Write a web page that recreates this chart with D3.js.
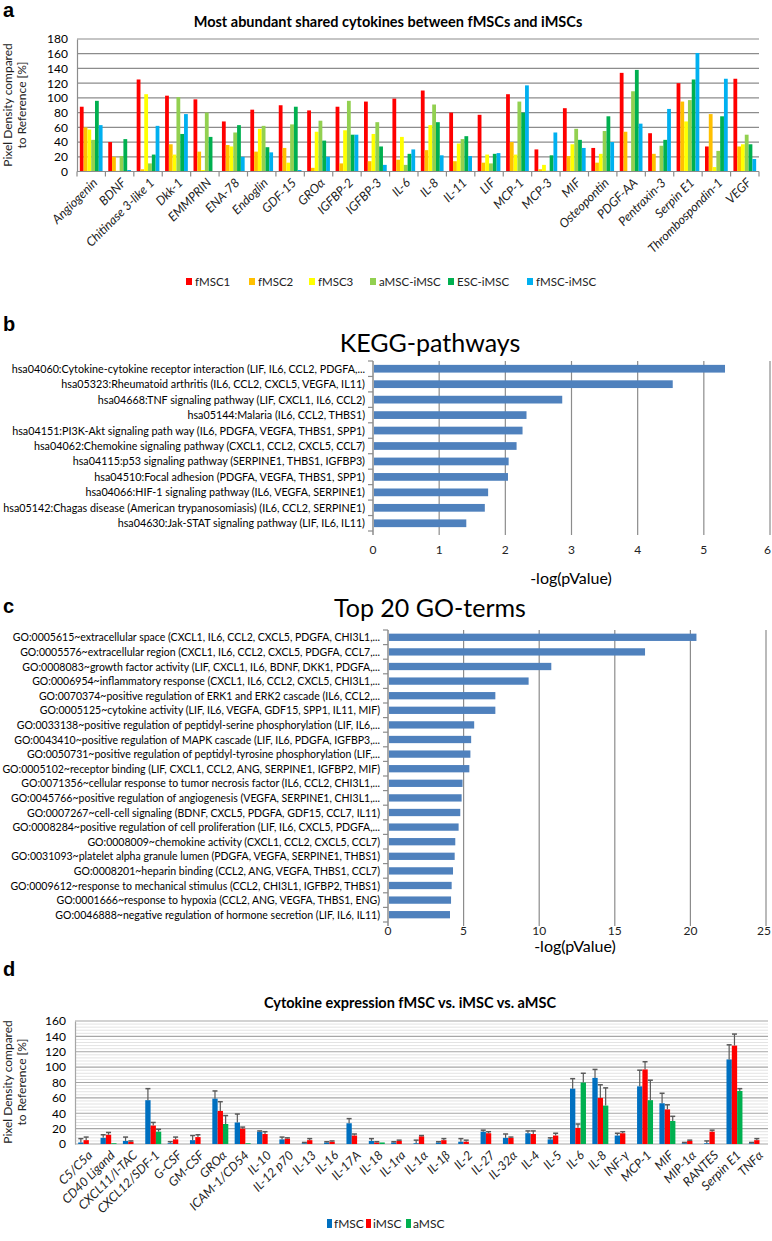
<!DOCTYPE html>
<html><head><meta charset="utf-8">
<script src="https://cdn.jsdelivr.net/npm/d3@7"></script>
<style>
body{margin:0;background:#fff}
svg{display:block}
text{font-family:Lato,"Liberation Sans",sans-serif;fill:#000}
</style>
</head><body>
<svg id="chart" width="772" height="1241"></svg>
<script>
// ---------- Panel a data ----------
const aCategories = ["Angiogenin","BDNF","Chitinase 3-like 1","Dkk-1","EMMPRIN","ENA-78","Endoglin","GDF-15","GROα","IGFBP-2","IGFBP-3","IL-6","IL-8","IL-11","LIF","MCP-1","MCP-3","MIF","Osteopontin","PDGF-AA","Pentraxin-3","Serpin E1","Thrombospondin-1","VEGF"];
const aSeriesNames = ["fMSC1","fMSC2","fMSC3","aMSC-iMSC","ESC-iMSC","fMSC-iMSC"];
const aColors = ["#ff0000","#ffc000","#ffff00","#92d050","#00b050","#00b0f0"];
const fMSC1     = [88,40,125,103,98,68,84,90,83,88,95,99,110,80,77,105,30,86,32,134,52,120,34,126];
const fMSC2     = [60,20,3,37,27,36,27,32,5,11,14,16,29,14,12,40,3,21,12,54,24,95,78,34];
const fMSC3     = [57,1,105,23,2,34,58,12,54,56,51,47,63,38,23,23,9,37,24,0,0,68,6,37];
const aMSC_iMSC = [43,21,11,101,80,53,62,64,69,96,67,9,91,44,11,95,1,58,55,109,35,97,28,50];
const ESC_iMSC  = [96,44,23,51,47,63,33,88,42,50,34,24,67,48,24,80,22,43,75,138,43,125,75,37];
const fMSC_iMSC = [63,2,62,78,0,20,26,2,20,50,9,30,22,21,25,117,53,32,40,65,85,161,126,17];
const aTicks = [0,20,40,60,80,100,120,140,160,180];
const aSeries = [fMSC1,fMSC2,fMSC3,aMSC_iMSC,ESC_iMSC,fMSC_iMSC];

// ---------- Panel b data ----------
const keggTerms = [
 "hsa04060:Cytokine-cytokine receptor interaction (LIF, IL6, CCL2, PDGFA,...",
 "hsa05323:Rheumatoid arthritis (IL6, CCL2, CXCL5, VEGFA, IL11)",
 "hsa04668:TNF signaling pathway (LIF, CXCL1, IL6, CCL2)",
 "hsa05144:Malaria (IL6, CCL2, THBS1)",
 "hsa04151:PI3K-Akt signaling path way (IL6, PDGFA, VEGFA, THBS1, SPP1)",
 "hsa04062:Chemokine signaling pathway (CXCL1, CCL2, CXCL5, CCL7)",
 "hsa04115:p53 signaling pathway (SERPINE1, THBS1, IGFBP3)",
 "hsa04510:Focal adhesion (PDGFA, VEGFA, THBS1, SPP1)",
 "hsa04066:HIF-1 signaling pathway (IL6, VEGFA, SERPINE1)",
 "hsa05142:Chagas disease (American trypanosomiasis) (IL6, CCL2, SERPINE1)",
 "hsa04630:Jak-STAT signaling pathway (LIF, IL6, IL11)"];
const keggValues = [5.32,4.53,2.86,2.32,2.26,2.17,2.05,2.04,1.74,1.69,1.41];
const keggTicks = [0,1,2,3,4,5,6];

// ---------- Panel c data ----------
const goTerms = [
 "GO:0005615~extracellular space (CXCL1, IL6, CCL2, CXCL5, PDGFA, CHI3L1,...",
 "GO:0005576~extracellular region (CXCL1, IL6, CCL2, CXCL5, PDGFA, CCL7,...",
 "GO:0008083~growth factor activity (LIF, CXCL1, IL6, BDNF, DKK1, PDGFA,...",
 "GO:0006954~inflammatory response (CXCL1, IL6, CCL2, CXCL5, CHI3L1,...",
 "GO:0070374~positive regulation of ERK1 and ERK2 cascade (IL6, CCL2,...",
 "GO:0005125~cytokine activity (LIF, IL6, VEGFA, GDF15, SPP1, IL11, MIF)",
 "GO:0033138~positive regulation of peptidyl-serine phosphorylation (LIF, IL6,...",
 "GO:0043410~positive regulation of MAPK cascade (LIF, IL6, PDGFA, IGFBP3,...",
 "GO:0050731~positive regulation of peptidyl-tyrosine phosphorylation (LIF,...",
 "GO:0005102~receptor binding (LIF, CXCL1, CCL2, ANG, SERPINE1, IGFBP2, MIF)",
 "GO:0071356~cellular response to tumor necrosis factor (IL6, CCL2, CHI3L1,...",
 "GO:0045766~positive regulation of angiogenesis (VEGFA, SERPINE1, CHI3L1,...",
 "GO:0007267~cell-cell signaling (BDNF, CXCL5, PDGFA, GDF15, CCL7, IL11)",
 "GO:0008284~positive regulation of cell proliferation (LIF, IL6, CXCL5, PDGFA,...",
 "GO:0008009~chemokine activity (CXCL1, CCL2, CXCL5, CCL7)",
 "GO:0031093~platelet alpha granule lumen (PDGFA, VEGFA, SERPINE1, THBS1)",
 "GO:0008201~heparin binding (CCL2, ANG, VEGFA, THBS1, CCL7)",
 "GO:0009612~response to mechanical stimulus (CCL2, CHI3L1, IGFBP2, THBS1)",
 "GO:0001666~response to hypoxia (CCL2, ANG, VEGFA, THBS1, ENG)",
 "GO:0046888~negative regulation of hormone secretion (LIF, IL6, IL11)"];
const goValues = [20.4,17.0,10.8,9.3,7.1,7.1,5.7,5.5,5.45,5.38,4.93,4.87,4.78,4.67,4.45,4.41,4.30,4.21,4.17,4.1];
const goTicks = [0,5,10,15,20,25];

// ---------- Panel d data ----------
const dCategories = ["C5/C5a","CD40 Ligand","CXCL11/I-TAC","CXCL12/SDF-1","G-CSF","GM-CSF","GROα","ICAM-1/CD54","IL-10","IL-12 p70","IL-13","IL-16","IL-17A","IL-18","IL-1ra","IL-1α","IL-1β","IL-2","IL-27","IL-32α","IL-4","IL-5","IL-6","IL-8","INF-γ","MCP-1","MIF","MIP-1α","RANTES","Serpin E1","TNFα"];
const dSeriesNames = ["fMSC","iMSC","aMSC"];
const dColors = ["#0070c0","#ff0000","#00b050"];
const fMSC     = [2,8,4,57,1,5,59,28,16,6,1,2,27,4,2,1,2,3,16,8,14,6,72,86,11,75,53,1,1,110,1];
const fMSC_err = [5,4,5,15,2,6,10,11,1,3,1,1,6,3,1,4,1,4,2,5,3,2,13,11,3,21,13,1,3,19,1];
const iMSC     = [5,12,3,24,6,9,43,20,13,7,5,3,11,2,4,10,5,3,14,8,13,11,21,60,14,97,45,4,16,128,5];
const iMSC_err = [4,3,1,4,3,3,12,2,3,1,2,1,2,1,1,1,2,2,2,1,4,3,5,17,2,10,6,1,2,15,2];
const aMSC     = [0,1,0,16,0,0,26,1,0,0,0,0,0,2,0,0,0,0,0,0,0,0,80,50,0,57,30,0,0,69,0];
const aMSC_err = [0,0,0,3,0,0,11,0,0,0,0,0,0,0,0,0,0,0,0,0,0,0,12,23,0,26,6,0,0,3,0];
const dTicks = [0,20,40,60,80,100,120,140,160];
const dSeries = [fMSC,iMSC,aMSC];
const dErrors = [fMSC_err,iMSC_err,aMSC_err];

const svg = d3.select("#chart");
const GRID = "#8c8c8c";

function panelLetter(t, x, y){
  svg.append("text").attr("x",x).attr("y",y).text(t)
    .style("font-family","'Liberation Sans',Arial,sans-serif").style("font-weight","bold").style("font-size","20px");
}
function yTitle(cx, cy){
  const g = svg.append("g").attr("transform",`translate(${cx},${cy}) rotate(-90)`);
  g.append("text").attr("x",0).attr("y",-5).attr("text-anchor","middle").style("font-size","12px").style("fill","#222").text("Pixel Density compared");
  g.append("text").attr("x",0).attr("y",9).attr("text-anchor","middle").style("font-size","12px").style("fill","#222").text("to Reference [%]");
}

// ================= Panel a =================
panelLetter("a", 3, 17);
svg.append("text").attr("x",388).attr("y",27).attr("text-anchor","middle")
  .style("font-weight","bold").style("font-size","14.5px").text("Most abundant shared cytokines between fMSCs and iMSCs");
const ax = d3.scaleBand().domain(aCategories).range([77,759]);
const ay = d3.scaleLinear().domain([0,180]).range([171.5,39]);
const aSub = d3.scaleBand().domain(d3.range(aSeriesNames.length)).range([0,ax.bandwidth()]).paddingOuter(0.75);
const ga = svg.append("g");
ga.selectAll("line.grid").data(aTicks).join("line")
  .attr("x1",77).attr("x2",759).attr("y1",d=>ay(d)).attr("y2",d=>ay(d))
  .attr("stroke",GRID).attr("stroke-width",1.2);
const aYAxis = ga.append("g").attr("transform","translate(77,0)")
  .call(d3.axisLeft(ay).tickValues(aTicks).tickSize(0).tickPadding(9));
aYAxis.select(".domain").attr("stroke",GRID).attr("stroke-width",1.2);
aYAxis.selectAll("text").style("font-size","12px").style("font-family","Lato,sans-serif").attr("fill","#222");
aSeries.forEach((vals,si)=>{
  ga.append("g").selectAll("rect").data(vals).join("rect")
    .attr("x",(d,i)=>ax(aCategories[i])+aSub(si))
    .attr("width",aSub.bandwidth())
    .attr("y",d=>ay(d)).attr("height",d=>ay(0)-ay(d))
    .attr("fill",aColors[si]);
});
ga.append("line").attr("x1",77).attr("x2",759).attr("y1",ay(0)).attr("y2",ay(0)).attr("stroke",GRID).attr("stroke-width",1.2);
ga.selectAll("line.xt").data(aCategories.concat([null])).join("line")
  .attr("x1",(d,i)=>77+i*ax.step()).attr("x2",(d,i)=>77+i*ax.step())
  .attr("y1",ay(0)).attr("y2",ay(0)+5).attr("stroke",GRID).attr("stroke-width",1.2);
ga.selectAll("text.xl").data(aCategories).join("text")
  .attr("transform",d=>`translate(${ax(d)+ax.bandwidth()/2+4},${ay(0)+9}) rotate(-45)`)
  .attr("text-anchor","end").attr("dy","0.35em")
  .style("font-size","12.5px").style("font-style","italic").style("fill","#222").text(d=>d);
yTitle(17, 105);
const aLegX = [186,249,309,370,448,527];
const la = svg.append("g");
aSeriesNames.forEach((n,i)=>{
  la.append("rect").attr("x",aLegX[i]).attr("y",278).attr("width",6).attr("height",7).attr("fill",aColors[i]);
  la.append("text").attr("x",aLegX[i]+9).attr("y",285.5).style("font-size","11.5px").style("fill","#222").text(n);
});

// ================= horizontal bar panels =================
function hbarPanel(opt){
  const {terms, values, ticks, x0, x1, top, bottom, fontSize, letterY, titleText, titleY, tickY, axisTitleY} = opt;
  panelLetter(opt.letter, 3, letterY);
  svg.append("text").attr("x",opt.titleX).attr("y",titleY).attr("text-anchor","middle")
    .style("font-size","25px").text(titleText);
  const x = d3.scaleLinear().domain([ticks[0],ticks[ticks.length-1]]).range([x0,x1]);
  const y = d3.scaleBand().domain(terms).range([top,bottom]).paddingInner(0.5).paddingOuter(0.25);
  const g = svg.append("g");
  g.selectAll("line.vg").data(ticks.slice(1)).join("line")
    .attr("x1",d=>x(d)).attr("x2",d=>x(d)).attr("y1",top).attr("y2",bottom+4)
    .attr("stroke",GRID).attr("stroke-width",1.2);
  g.append("line").attr("x1",x0).attr("x2",x0).attr("y1",top).attr("y2",bottom+4).attr("stroke",GRID).attr("stroke-width",1.5);
  const step = (bottom-top)/terms.length;
  g.selectAll("line.yt").data(d3.range(terms.length+1)).join("line")
    .attr("x1",x0-5).attr("x2",x0).attr("y1",i=>top+i*step).attr("y2",i=>top+i*step)
    .attr("stroke",GRID).attr("stroke-width",1.2);
  g.selectAll("rect").data(values).join("rect")
    .attr("x",x0+1).attr("y",(d,i)=>y(terms[i])).attr("height",y.bandwidth())
    .attr("width",d=>x(d)-x0-1).attr("fill","#4f81bd");
  const lg = g.append("g").attr("transform",`translate(${x0-8},0)`);
  const labs = lg.selectAll("text").data(terms).join("text")
    .attr("x",0).attr("y",d=>y(d)+y.bandwidth()/2).attr("dy","0.35em").attr("text-anchor","end")
    .style("font-size",fontSize+"px").text(d=>d);
  const maxW = d3.max(labs.nodes(), n=>n.getComputedTextLength());
  const k = Math.min(1, opt.labelWidth/maxW);
  lg.attr("transform",`translate(${x0-8},0) scale(${k},1)`);
  const tk = g.selectAll("text.tk").data(ticks).join("text")
    .attr("y",tickY).attr("text-anchor","middle")
    .style("font-size","12px").style("fill","#222").text(d=>d);
  tk.attr("x",function(d){ const w=this.getComputedTextLength(); return Math.min(x(d), 771-w/2); });
  svg.append("text").attr("x",opt.axisTitleX).attr("y",axisTitleY).attr("text-anchor","middle")
    .style("font-size","16px").text("-log(pValue)");
}
hbarPanel({letter:"b", terms:keggTerms, values:keggValues, ticks:keggTicks, x0:373, x1:770, top:361, bottom:531,
  fontSize:11.5, labelWidth:362, letterY:331, titleText:"KEGG-pathways", titleX:430, titleY:352, tickY:554, axisTitleY:584, axisTitleX:571});
hbarPanel({letter:"c", terms:goTerms, values:goValues, ticks:goTicks, x0:388, x1:766, top:630, bottom:922,
  fontSize:11.5, labelWidth:378, letterY:613, titleText:"Top 20 GO-terms", titleX:430, titleY:617, tickY:935, axisTitleY:952, axisTitleX:575});

// ================= Panel d =================
panelLetter("d", 3, 976);
svg.append("text").attr("x",410).attr("y",1008).attr("text-anchor","middle")
  .style("font-weight","bold").style("font-size","14.5px").text("Cytokine expression fMSC vs. iMSC vs. aMSC");
const dx = d3.scaleBand().domain(dCategories).range([75,768]);
const dy = d3.scaleLinear().domain([0,160]).range([1144,1021]);
const dSub = d3.scaleBand().domain(d3.range(3)).range([0,dx.bandwidth()]).paddingOuter(0.6);
const gd = svg.append("g");
gd.selectAll("line.mg").data(d3.range(0,161,4).filter(v=>v%20!==0)).join("line")
  .attr("x1",75).attr("x2",768).attr("y1",d=>dy(d)).attr("y2",d=>dy(d))
  .attr("stroke","#e3e3e3").attr("stroke-width",1);
gd.selectAll("line.grid").data(dTicks).join("line")
  .attr("x1",75).attr("x2",768).attr("y1",d=>dy(d)).attr("y2",d=>dy(d))
  .attr("stroke","#a6a6a6").attr("stroke-width",1.2);
const dYAxis = gd.append("g").attr("transform","translate(75,0)")
  .call(d3.axisLeft(dy).tickValues(dTicks).tickSize(0).tickPadding(9));
dYAxis.select(".domain").attr("stroke","#a6a6a6").attr("stroke-width",1.2);
dYAxis.selectAll("text").style("font-size","12px").style("font-family","Lato,sans-serif").attr("fill","#222");
dSeries.forEach((vals,si)=>{
  const gg = gd.append("g");
  gg.selectAll("rect").data(vals).join("rect")
    .attr("x",(d,i)=>dx(dCategories[i])+dSub(si))
    .attr("width",dSub.bandwidth())
    .attr("y",d=>dy(d)).attr("height",d=>dy(0)-dy(d))
    .attr("fill",dColors[si]);
  const errs = dErrors[si];
  vals.forEach((v,i)=>{
    if(errs[i]<=0) return;
    const cx = dx(dCategories[i])+dSub(si)+dSub.bandwidth()/2;
    gg.append("line").attr("x1",cx).attr("x2",cx).attr("y1",dy(v)).attr("y2",dy(v+errs[i])).attr("stroke","#595959").attr("stroke-width",1.2);
    gg.append("line").attr("x1",cx-2.5).attr("x2",cx+2.5).attr("y1",dy(v+errs[i])).attr("y2",dy(v+errs[i])).attr("stroke","#595959").attr("stroke-width",1.5);
  });
});
gd.selectAll("text.xl").data(dCategories).join("text")
  .attr("transform",d=>`translate(${dx(d)+dx.bandwidth()/2+4},${dy(0)+9}) rotate(-45)`)
  .attr("text-anchor","end").attr("dy","0.35em")
  .style("font-size","12.5px").style("font-style","italic").style("fill","#222").text(d=>d);
yTitle(17, 1082);
const dLegX = [327,366,406];
dSeriesNames.forEach((n,i)=>{
  svg.append("rect").attr("x",dLegX[i]).attr("y",1219).attr("width",5).attr("height",9).attr("fill",dColors[i]);
  svg.append("text").attr("x",dLegX[i]+7).attr("y",1228).style("font-size","12px").style("fill","#222").text(n);
});
</script>
</body></html>
